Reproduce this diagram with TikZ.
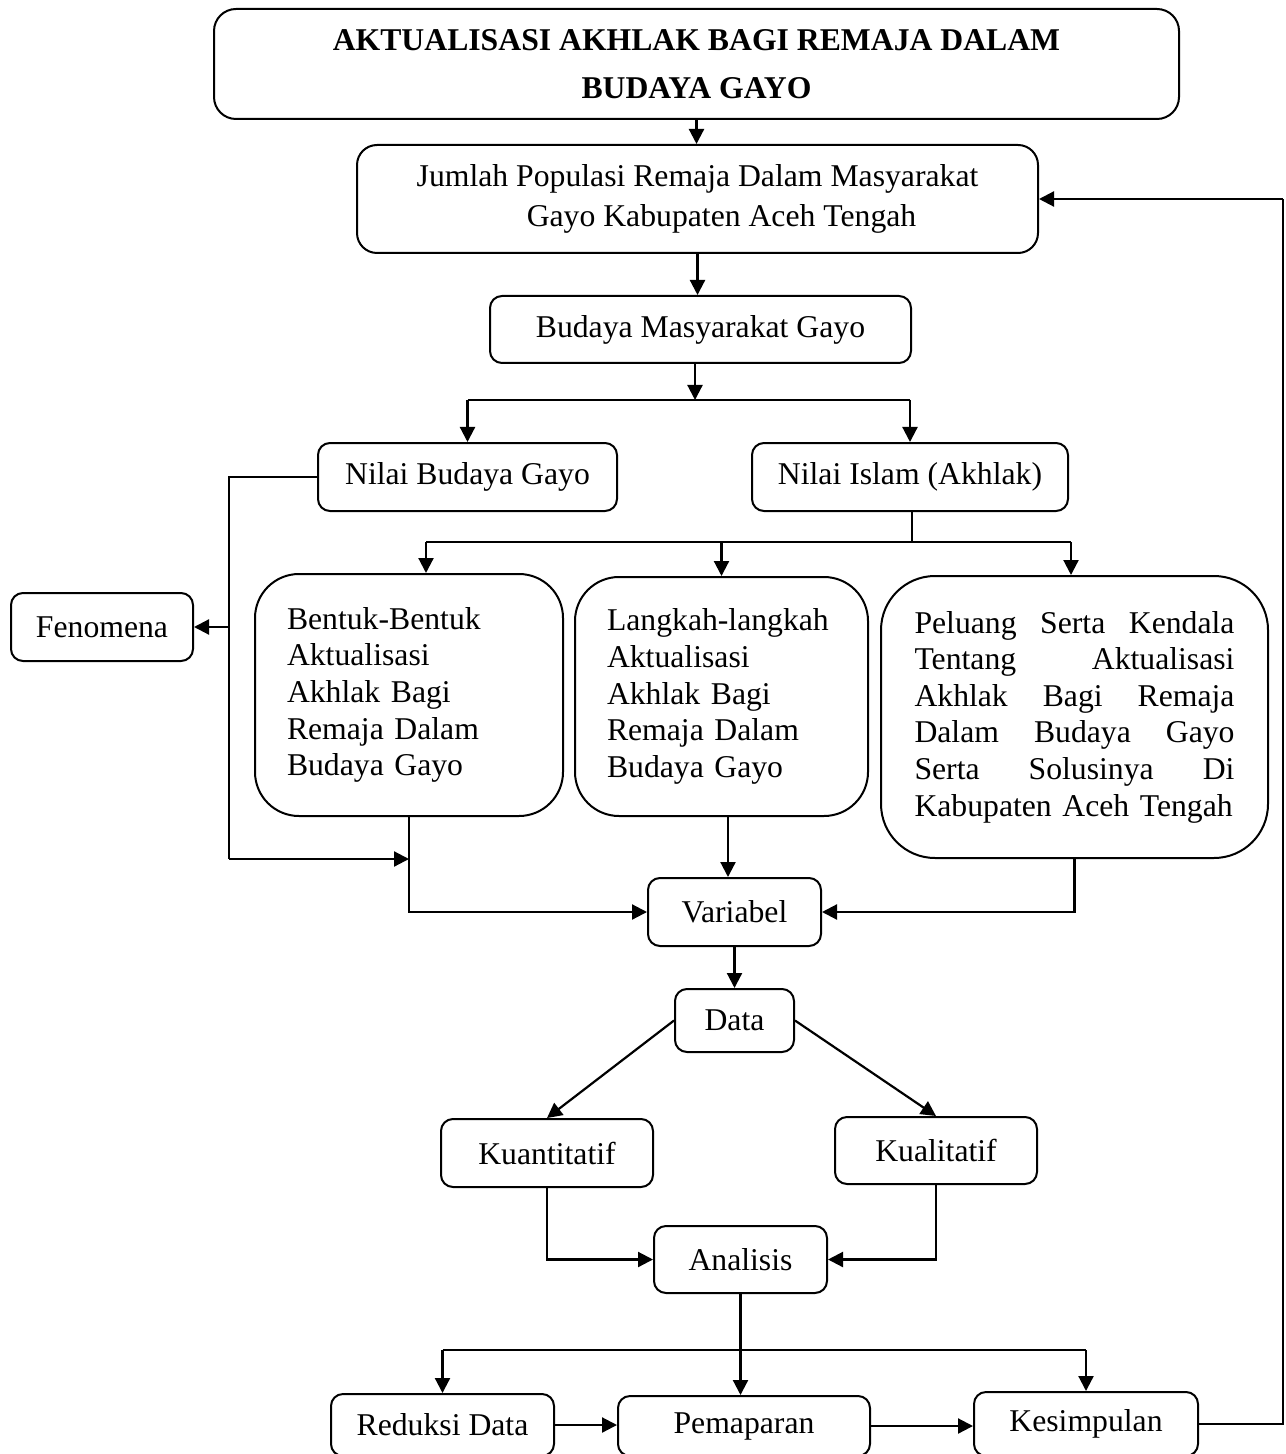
\documentclass[tikz,border=0pt]{standalone}
\usepackage{fontspec}
\setmainfont{Liberation Serif}
\usetikzlibrary{arrows.meta,calc}
\newcommand\fsn{\fontsize{15.85pt}{18.3pt}\selectfont}
\newcommand\fsp{\fontsize{15.85pt}{20pt}\selectfont}
\newcommand\fst{\fontsize{15.85pt}{24pt}\selectfont\bfseries}
\begin{document}
\begin{tikzpicture}[x=0.5pt,y=-0.5pt,
  box/.style={draw, line width=1pt, rounded corners=6pt, inner sep=0pt, align=center, font=\fsn},
  bigbox/.style={draw, line width=1pt, rounded corners=22pt, inner ysep=0pt, align=left, font=\fsn},
  ln/.style={line width=1.1pt},
  arr/.style={line width=1.1pt, -{Triangle[length=7.5pt,width=7.5pt]}}]
\useasboundingbox (0,0) rectangle (1285,1454);
\clip (0,0) rectangle (1285,1454);

% nodes
\node[box, font=\fst, rounded corners=11pt, minimum width=482.5pt, minimum height=55pt] (title) at (696.5,64)
  {AKTUALISASI AKHLAK BAGI REMAJA DALAM\\BUDAYA GAYO};
\node[box, font=\fsp, rounded corners=10pt, minimum width=340.5pt, minimum height=54pt] (pop) at (697.5,199)
  {Jumlah Populasi Remaja Dalam Masyarakat\\\hspace*{24pt}Gayo Kabupaten Aceh Tengah};
\node[box, minimum width=210.5pt, minimum height=33.5pt] (bud) at (700.5,329.5) {Budaya Masyarakat Gayo};
\node[box, minimum width=149.5pt, minimum height=34pt] (nbg) at (467.5,477) {Nilai Budaya Gayo};
\node[box, minimum width=158pt, minimum height=34pt] (nis) at (910,477) {Nilai Islam (Akhlak)};
\node[box, minimum width=91pt, minimum height=34pt] (fen) at (102,627) {Fenomena};
\node[bigbox, text width=122pt, inner xsep=16pt, minimum height=121pt] (ben) at (409,695)
  {Bentuk-Bentuk\\Aktualisasi\\Akhlak Bagi\\Remaja Dalam\\Budaya Gayo};
\node[bigbox, text width=114.5pt, inner xsep=16pt, minimum height=119.5pt] (lan) at (721.5,696.5)
  {Langkah-langkah\\Aktualisasi\\Akhlak Bagi\\Remaja Dalam\\Budaya Gayo};
\node[bigbox, rounded corners=27pt, text width=160pt, inner xsep=16.75pt, minimum height=141pt] (pel) at (1074.5,717)
  {\makebox[160pt]{Peluang\hfill Serta\hfill Kendala}\\
   \makebox[160pt]{Tentang\hfill Aktualisasi}\\
   \makebox[160pt]{Akhlak\hfill Bagi\hfill Remaja}\\
   \makebox[160pt]{Dalam\hfill Budaya\hfill Gayo}\\
   \makebox[160pt]{Serta\hfill Solusinya\hfill Di}\\
   Kabupaten Aceh Tengah};
\node[box, minimum width=86.5pt, minimum height=34pt] (var) at (734.5,912) {Variabel};
\node[box, minimum width=59.5pt, minimum height=31.5pt] (dat) at (734.5,1020.5) {Data};
\node[box, minimum width=106pt, minimum height=34pt] (kua) at (547,1153) {Kuantitatif};
\node[box, minimum width=101pt, minimum height=33.5pt] (kul) at (936,1150.5) {Kualitatif};
\node[box, minimum width=86.5pt, minimum height=33.5pt] (ana) at (740.5,1259.5) {Analisis};
\node[box, minimum width=111.5pt, minimum height=31pt] (red) at (442.5,1425) {Reduksi Data};
\node[box, minimum width=126pt, minimum height=30pt] (pem) at (744,1426) {Pemaparan};
\node[box, minimum width=112pt, minimum height=32pt] (kes) at (1086,1424) {Kesimpulan};

% coordinates
\coordinate (s1) at (695,400);
\coordinate (s2) at (912,542);
\coordinate (s2l) at (426,542);
\coordinate (s2r) at (1071,542);
\coordinate (c1) at (229,859);
\coordinate (c2) at (728,0);
\coordinate (s3) at (741,1350);
\coordinate (c3) at (1283,199);

% connectors
\draw[arr] (title.south) -- (title.south |- pop.north);
\draw[arr] (pop.south) -- (pop.south |- bud.north);
\draw[arr] (s1 |- bud.south) -- (s1);
\draw[ln] (nbg.north |- s1) -- (nis.north |- s1);
\draw[arr] (nbg.north |- s1) -- (nbg.north);
\draw[arr] (nis.north |- s1) -- (nis.north);

\draw[ln] (s2 |- nis.south) -- (s2);
\draw[ln] (s2l) -- (s2r);
\draw[arr] (s2l) -- (s2l |- ben.north);
\draw[arr] (lan.north |- s2) -- (lan.north);
\draw[arr] (s2r) -- (s2r |- pel.north);

\draw[ln] (nbg.west) -| (c1);
\draw[arr] (c1) -- (c1 -| ben.south);
\draw[arr] (c1 |- fen.east) -- (fen.east);

\draw[arr] (ben.south) |- (var.west);
\draw[arr] (c2 |- lan.south) -- (c2 |- var.north);
\draw[arr] (pel.south) |- (var.east);
\draw[arr] (var.south) -- (dat.north);
\draw[arr] (dat.west) -- (kua.north);
\draw[arr] (dat.east) -- (kul.north);
\draw[arr] (kua.south) |- (ana.west);
\draw[arr] (kul.south) |- (ana.east);
\draw[arr] (ana.south) -- (ana.south |- pem.north);
\draw[ln] (red.north |- s3) -- (kes.north |- s3);
\draw[arr] (red.north |- s3) -- (red.north);
\draw[arr] (kes.north |- s3) -- (kes.north);
\draw[arr] (red.east) -- (red.east -| pem.west);
\draw[arr] (pem.east) -- (pem.east -| kes.west);
\draw[ln] (kes.east) -| (c3);
\draw[arr] (c3) -- (pop.east);
\end{tikzpicture}
\end{document}
